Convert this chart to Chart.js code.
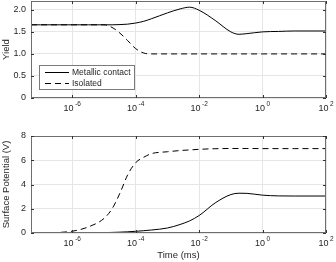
<!DOCTYPE html>
<html lang="en">
  <head>
    <meta charset="UTF-8" />
    <script src="https://cdn.jsdelivr.net/npm/chart.js@4/dist/chart.umd.min.js"></script>
    <style>
      body { margin: 0; background: #fff; }
      .plot { position: absolute; left: 0; width: 336px; height: 131px; }
      #top { top: 0; }
      #bottom { top: 131px; }
    </style>
    <title>Yield and surface potential</title>
  </head>
  <body>
    <div class="plot" id="top"><canvas id="yieldChart" width="336" height="131"></canvas></div>
    <div class="plot" id="bottom"><canvas id="potChart" width="336" height="131"></canvas></div>

    <script>
      // values (time in ms)
      const times = [5e-8, 1e-7, 1e-6, 3.2e-6, 1e-5, 1.8e-5, 3.2e-5, 5.6e-5, 1e-4, 1.8e-4, 3.2e-4,
                     1e-3, 2.5e-3, 5e-3, 1e-2, 3.2e-2, 0.1, 0.18, 0.32, 1, 3.2, 10, 100];
      const yieldMetal = [1.66, 1.66, 1.66, 1.66, 1.66, 1.66, 1.665, 1.675, 1.70, 1.74, 1.80,
                          1.93, 2.02, 2.06, 1.99, 1.76, 1.50, 1.445, 1.46, 1.50, 1.51, 1.52, 1.52];
      const yieldIsolated = [1.66, 1.66, 1.66, 1.66, 1.66, 1.60, 1.47, 1.30, 1.12, 1.02, 1.0,
                             1.0, 1.0, 1.0, 1.0, 1.0, 1.0, 1.0, 1.0, 1.0, 1.0, 1.0, 1.0];
      const potMetal = [0, 0, 0.01, 0.02, 0.03, 0.05, 0.07, 0.1, 0.14, 0.19, 0.25,
                        0.41, 0.7, 1.0, 1.44, 2.48, 3.17, 3.28, 3.27, 3.12, 3.06, 3.05, 3.05];
      const potIsolated = [0, 0.01, 0.15, 0.5, 1.2, 2.0, 3.3, 4.8, 5.8, 6.25, 6.55,
                           6.7, 6.8, 6.85, 6.9, 6.95, 6.97, 6.97, 6.97, 6.96, 6.96, 6.96, 6.96];
      const seriesNames = ['Metallic contact', 'Isolated'];
      const xTicks = [1e-6, 1e-4, 1e-2, 1, 100];
      const yieldTicks = [0, 0.5, 1, 1.5, 2];
      const potTicks = [0, 2, 4, 6, 8];

      const FONT = 'Liberation Sans, Arial, sans-serif';

      function pts(ys) {
        return times.map((t, i) => ({ x: t, y: ys[i] }));
      }

      function noPad(s) {
        s.paddingTop = 0; s.paddingBottom = 0; s.paddingLeft = 0; s.paddingRight = 0;
      }

      // box, inward ticks, power-of-ten labels and the legend
      const framePlugin = {
        id: 'frame',
        afterDraw(chart) {
          const { ctx, chartArea: a, scales } = chart;
          ctx.save();
          ctx.strokeStyle = '#6e6e6e';
          ctx.lineWidth = 1;
          ctx.strokeRect(a.left + 0.5, a.top + 0.5, a.right - a.left - 1, a.bottom - a.top - 1);
          ctx.strokeStyle = '#333';
          ctx.beginPath();
          scales.x.ticks.forEach(t => {
            const px = Math.round(scales.x.getPixelForValue(t.value)) + 0.5;
            ctx.moveTo(px, a.bottom); ctx.lineTo(px, a.bottom - 3);
            ctx.moveTo(px, a.top); ctx.lineTo(px, a.top + 3);
          });
          scales.y.ticks.forEach(t => {
            const py = Math.round(scales.y.getPixelForValue(t.value)) + 0.5;
            ctx.moveTo(a.left, py); ctx.lineTo(a.left + 3, py);
            ctx.moveTo(a.right, py); ctx.lineTo(a.right - 3, py);
          });
          ctx.stroke();

          // x tick labels as 10 with a raised exponent
          ctx.fillStyle = '#262626';
          ctx.textBaseline = 'alphabetic';
          scales.x.ticks.forEach(t => {
            const px = scales.x.getPixelForValue(t.value);
            const e = String(Math.round(Math.log10(t.value)));
            ctx.font = '9px ' + FONT;
            const wb = ctx.measureText('10').width;
            ctx.font = '6.5px ' + FONT;
            const we = ctx.measureText(e).width + 1.5;
            const x0 = px - (wb + we) / 2;
            ctx.font = '9px ' + FONT;
            ctx.textAlign = 'left';
            ctx.fillText('10', x0, a.bottom + 13);
            ctx.font = '6.5px ' + FONT;
            ctx.fillText(e, x0 + wb + 1.5, a.bottom + 8);
          });

          // legend
          if (chart.options.plugins.frame && chart.options.plugins.frame.legend) {
            const lx = 39, ly = 65, lw = 95, lh = 24;
            ctx.fillStyle = '#fff';
            ctx.fillRect(lx, ly, lw, lh);
            ctx.strokeStyle = '#7a7a7a';
            ctx.strokeRect(lx + 0.5, ly + 0.5, lw, lh);
            chart.data.datasets.forEach((ds, i) => {
              const yy = ly + 7 + i * 11 + 0.5;
              ctx.strokeStyle = '#000';
              ctx.setLineDash(ds.borderDash || []);
              ctx.beginPath();
              ctx.moveTo(lx + 6, yy); ctx.lineTo(lx + 30, yy);
              ctx.stroke();
              ctx.setLineDash([]);
              ctx.fillStyle = '#262626';
              ctx.font = '8.5px ' + FONT;
              ctx.textAlign = 'left';
              ctx.textBaseline = 'middle';
              ctx.fillText(ds.label, lx + 33, yy);
            });
          }
          ctx.restore();
        }
      };

      function makeChart(id, opts) {
        return new Chart(document.getElementById(id), {
          type: 'line',
          data: {
            datasets: [
              { label: seriesNames[0], data: pts(opts.metal), borderColor: '#000', borderWidth: 1,
                pointRadius: 0, cubicInterpolationMode: 'monotone' },
              { label: seriesNames[1], data: pts(opts.iso), borderColor: '#000', borderWidth: 1,
                borderDash: [6, 4], pointRadius: 0, cubicInterpolationMode: 'monotone' }
            ]
          },
          options: {
            responsive: false,
            animation: false,
            layout: { padding: { left: 0, right: 10, top: opts.padTop, bottom: 0 } },
            plugins: { legend: { display: false }, tooltip: { enabled: false }, frame: { legend: opts.legend } },
            scales: {
              x: {
                type: 'logarithmic',
                min: 5e-8,
                max: 100,
                afterBuildTicks: s => { s.ticks = xTicks.map(v => ({ value: v })); },
                afterFit: s => { s.height = opts.xHeight; noPad(s); },
                ticks: { display: false },
                grid: { color: '#e6e6e6', drawTicks: false },
                border: { display: false },
                title: {
                  display: opts.xTitle,
                  text: 'Time (ms)',
                  color: '#262626',
                  font: { family: FONT, size: 9.5 },
                  padding: { top: 0, bottom: 1 }
                }
              },
              y: {
                min: 0,
                max: opts.ymax,
                afterBuildTicks: s => { s.ticks = opts.yTicks.map(v => ({ value: v })); },
                afterFit: s => { s.width = 31; noPad(s); },
                ticks: { color: '#262626', font: { family: FONT, size: 9 }, padding: 5 },
                grid: { color: '#e6e6e6', drawTicks: false },
                border: { display: false },
                title: {
                  display: true,
                  text: opts.yTitle,
                  color: '#262626',
                  font: { family: FONT, size: 9.5 },
                  padding: { top: 1, bottom: 0 }
                }
              }
            }
          },
          plugins: [framePlugin]
        });
      }

      makeChart('yieldChart', {
        metal: yieldMetal, iso: yieldIsolated, ymax: 2.2, yTicks: yieldTicks,
        yTitle: 'Yield', xTitle: false, legend: true, padTop: 1, xHeight: 33
      });
      makeChart('potChart', {
        metal: potMetal, iso: potIsolated, ymax: 8, yTicks: potTicks,
        yTitle: 'Surface Potential (V)', xTitle: true, legend: false, padTop: 5, xHeight: 29
      });
    </script>
  </body>
</html>
